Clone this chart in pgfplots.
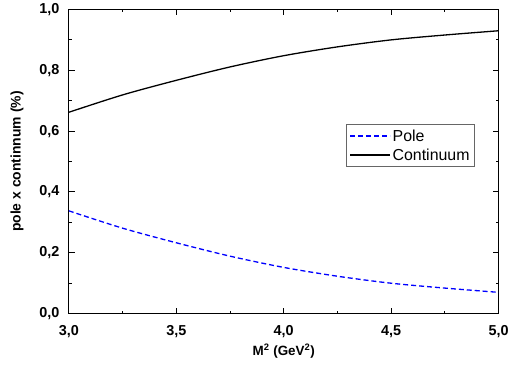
\documentclass[border=0pt]{standalone}
\usepackage{pgfplots}
\pgfplotsset{compat=1.18}
\usepackage{fontspec}
\setmainfont{Liberation Sans}

% pole and continuum contributions versus Borel mass
\pgfplotstableread{
M2    pole   cont
3.00  0.338  0.662
3.25  0.281  0.719
3.50  0.233  0.767
3.75  0.189  0.811
4.00  0.152  0.848
4.25  0.123  0.877
4.50  0.100  0.900
4.75  0.084  0.916
5.00  0.070  0.930
}\datatable

\begin{document}
\begin{tikzpicture}
\begin{axis}[
  scale only axis,
  width=431bp, height=305bp,
  xmin=3, xmax=5, ymin=0, ymax=1,
  xtick={3,3.5,4,4.5,5},
  ytick={0,0.2,0.4,0.6,0.8,1.0},
  minor x tick num=1,
  minor y tick num=1,
  tick align=inside,
  major tick length=6bp,
  minor tick length=3bp,
  axis line style={line width=1.2bp},
  every tick/.style={black, line width=1bp},
  /pgf/number format/.cd, use comma, fixed, fixed zerofill, precision=1, assume math mode=true,
  /pgfplots/.cd,
  tick label style={font=\bfseries\fontsize{14.5}{14.5}\selectfont},
  xticklabel style={yshift=-8bp},
  yticklabel style={xshift=-6bp},
  xlabel={\bfseries\fontsize{13.5}{13.5}\selectfont M\textsuperscript{2} (GeV\textsuperscript{2})},
  ylabel={\bfseries\fontsize{14}{14}\selectfont pole x continnum (\%)},
  xlabel style={yshift=0bp},
  ylabel style={yshift=9bp},
  legend style={at={(0.645,0.623)}, anchor=north west, draw=gray!80!black, line width=0.8bp,
    font=\fontsize{16}{17}\selectfont, inner xsep=3bp, inner ysep=3bp, row sep=2bp},
  legend cell align=left,
  legend image code/.code={\draw[#1] (0bp,0bp) -- (40bp,0bp);},
]
\addplot[blue, line width=1.3bp, dash pattern=on 5bp off 3bp, smooth] table[x=M2, y=pole] {\datatable};
\addlegendentry{Pole}
\addplot[black, line width=1.3bp, smooth] table[x=M2, y=cont] {\datatable};
\addlegendentry{Continuum}
\end{axis}
\path ([xshift=-69bp,yshift=-57bp]current axis.south west) rectangle ([xshift=12bp,yshift=7bp]current axis.north east);
\end{tikzpicture}
\end{document}
